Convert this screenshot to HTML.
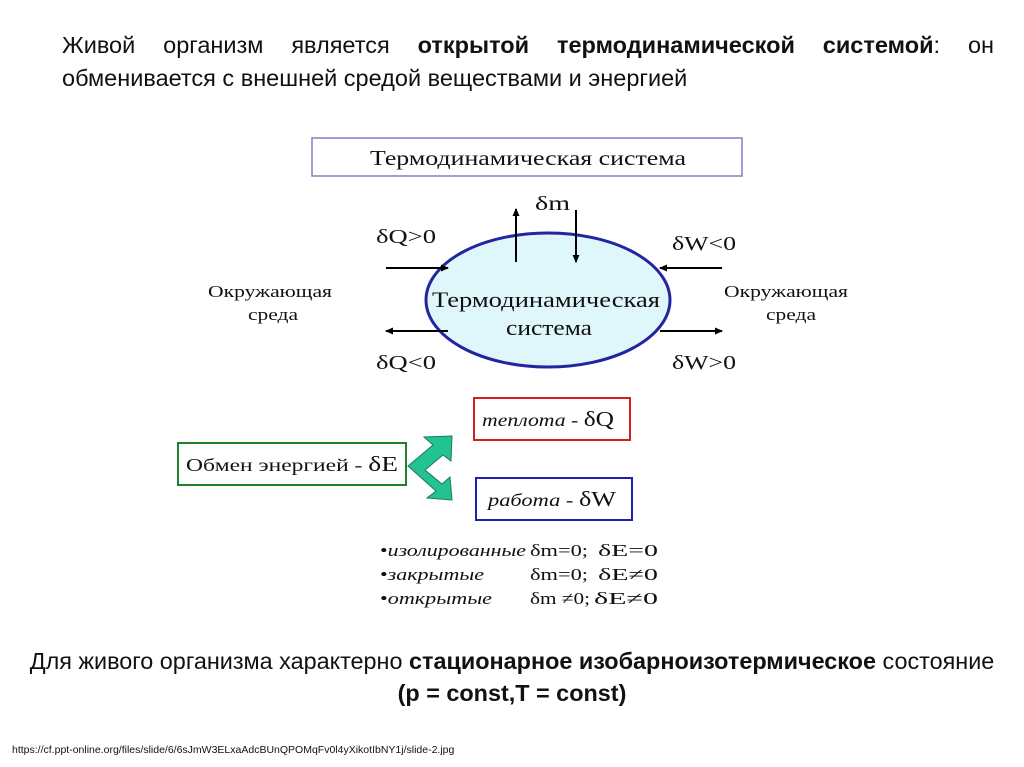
<!DOCTYPE html>
<html><head><meta charset="utf-8"><style>
body{margin:0;width:1024px;height:767px;background:#fff;position:relative;overflow:hidden;font-family:"Liberation Sans","Noto Sans CJK SC",sans-serif;}
.t{position:absolute;left:62px;width:932px;font-size:23.5px;line-height:33px;color:#111;top:29px}
.l1{display:block;text-align:justify;text-align-last:justify}
.b{position:absolute;left:0;width:1024px;text-align:center;font-size:23.4px;line-height:32px;color:#111;top:645px}
.u{position:absolute;left:12px;top:744px;font-size:10.5px;color:#111}
svg{position:absolute;left:0;top:0}
</style></head><body>
<div class="t"><span class="l1">Живой организм является <b>открытой термодинамической системой</b>: он</span>обменивается с внешней средой веществами и энергией</div>
<svg width="1024" height="767" font-family="Liberation Serif, serif" fill="#111">
<defs><marker id="a" markerWidth="8" markerHeight="8" refX="7" refY="4" orient="auto" markerUnits="userSpaceOnUse"><path d="M0,0.5 L8,4 L0,7.5z" fill="#000"/></marker></defs>
<rect x="312" y="138" width="430" height="38" fill="#fff" stroke="#8080c0" stroke-width="1.5"/>
<text x="370" y="165" font-size="21" textLength="316" lengthAdjust="spacingAndGlyphs">Термодинамическая система</text>
<ellipse cx="548" cy="300" rx="122" ry="67" fill="#dff6fa" stroke="#2424a0" stroke-width="3"/>
<text x="432" y="307" font-size="22" textLength="228" lengthAdjust="spacingAndGlyphs">Термодинамическая</text>
<text x="506" y="335" font-size="22" textLength="86" lengthAdjust="spacingAndGlyphs">система</text>
<g stroke="#000" stroke-width="2" marker-end="url(#a)">
<line x1="386" y1="268" x2="448" y2="268"/>
<line x1="448" y1="331" x2="386" y2="331"/>
<line x1="722" y1="268" x2="660" y2="268"/>
<line x1="660" y1="331" x2="722" y2="331"/>
<line x1="516" y1="262" x2="516" y2="209"/>
<line x1="576" y1="210" x2="576" y2="262"/>
</g>
<g font-size="20">
<text x="376" y="243" textLength="60" lengthAdjust="spacingAndGlyphs">δQ&gt;0</text>
<text x="376" y="369" textLength="60" lengthAdjust="spacingAndGlyphs">δQ&lt;0</text>
<text x="535" y="210" textLength="35" lengthAdjust="spacingAndGlyphs">δm</text>
<text x="672" y="250" textLength="64" lengthAdjust="spacingAndGlyphs">δW&lt;0</text>
<text x="672" y="369" textLength="64" lengthAdjust="spacingAndGlyphs">δW&gt;0</text>
</g>
<g font-size="17">
<text x="208" y="297" textLength="124" lengthAdjust="spacingAndGlyphs">Окружающая</text>
<text x="248" y="320" textLength="50" lengthAdjust="spacingAndGlyphs">среда</text>
<text x="724" y="297" textLength="124" lengthAdjust="spacingAndGlyphs">Окружающая</text>
<text x="766" y="320" textLength="50" lengthAdjust="spacingAndGlyphs">среда</text>
</g>
<rect x="474" y="398" width="156" height="42" fill="#fff" stroke="#d02020" stroke-width="2"/>
<text x="482" y="426" font-size="18" textLength="132" lengthAdjust="spacingAndGlyphs"><tspan font-style="italic">теплота</tspan> - <tspan font-size="21">δQ</tspan></text>
<rect x="476" y="478" width="156" height="42" fill="#fff" stroke="#2020b0" stroke-width="2"/>
<text x="488" y="506" font-size="18" textLength="128" lengthAdjust="spacingAndGlyphs"><tspan font-style="italic">работа</tspan> - <tspan font-size="21">δW</tspan></text>
<rect x="178" y="443" width="228" height="42" fill="#fff" stroke="#208030" stroke-width="2"/>
<text x="186" y="471" font-size="18" textLength="212" lengthAdjust="spacingAndGlyphs">Обмен энергией - <tspan font-size="21">δE</tspan></text>
<polygon points="424,437 452,436 451,461 443,455 425,470 442,484 450,477 452,500 427,498 436,491 408,466 433,445" fill="#22c391" stroke="#1a7a5a" stroke-width="1"/>
<g font-size="17">
<text x="380" y="556" textLength="146" lengthAdjust="spacingAndGlyphs">•<tspan font-style="italic">изолированные</tspan></text>
<text x="380" y="580" textLength="104" lengthAdjust="spacingAndGlyphs">•<tspan font-style="italic">закрытые</tspan></text>
<text x="380" y="604" textLength="112" lengthAdjust="spacingAndGlyphs">•<tspan font-style="italic">открытые</tspan></text>
<text x="530" y="556" textLength="58" lengthAdjust="spacingAndGlyphs">δm=0;</text><text x="598" y="556" textLength="60" lengthAdjust="spacingAndGlyphs">δE=0</text>
<text x="530" y="580" textLength="58" lengthAdjust="spacingAndGlyphs">δm=0;</text><text x="598" y="580" textLength="60" lengthAdjust="spacingAndGlyphs">δE≠0</text>
<text x="530" y="604" textLength="60" lengthAdjust="spacingAndGlyphs">δm ≠0;</text><text x="594" y="604" textLength="64" lengthAdjust="spacingAndGlyphs">δE≠0</text>
</g>
</svg>
<div class="b">Для живого организма характерно <b>стационарное изобарноизотермическое</b> состояние<br><b>(p = const,T = const)</b></div>
<div class="u">https://cf.ppt-online.org/files/slide/6/6sJmW3ELxaAdcBUnQPOMqFv0l4yXikotIbNY1j/slide-2.jpg</div>
</body></html>
